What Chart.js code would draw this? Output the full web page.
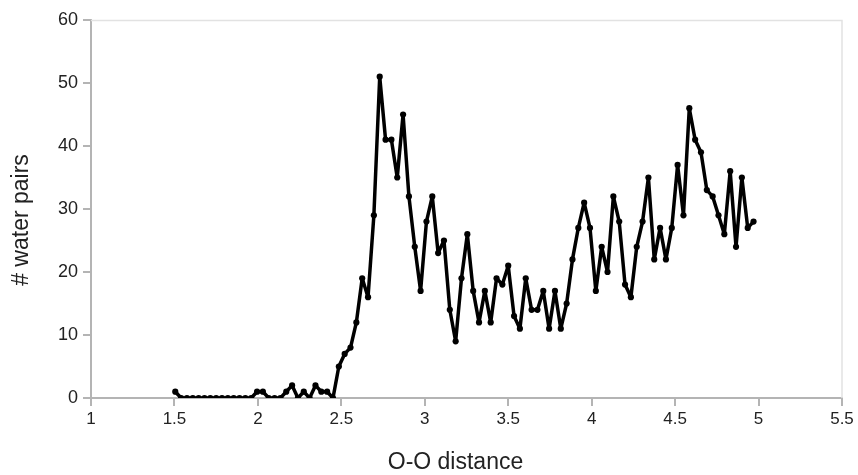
<!DOCTYPE html>
<html>
<head>
<meta charset="utf-8">
<script src="https://cdn.jsdelivr.net/npm/chart.js@4/dist/chart.umd.min.js"></script>
<style>
  html, body { margin: 0; padding: 0; background: #ffffff; }
  #wrap { width: 858px; height: 475px; }
</style>
</head>
<body>
<div id="wrap"><canvas id="c" width="858" height="475"></canvas></div>
<script>
// O-O distance (bin positions)
const distances = [
  1.505, 1.540, 1.575, 1.610, 1.645, 1.680, 1.715, 1.750, 1.785, 1.820,
  1.855, 1.890, 1.925, 1.960, 1.995, 2.030, 2.065, 2.100, 2.135, 2.170,
  2.205, 2.240, 2.275, 2.310, 2.345, 2.380, 2.415, 2.450, 2.485, 2.520,
  2.555, 2.590, 2.625, 2.660, 2.695, 2.730, 2.765, 2.800, 2.835, 2.870,
  2.905, 2.940, 2.975, 3.010, 3.045, 3.080, 3.115, 3.150, 3.185, 3.220,
  3.255, 3.290, 3.325, 3.360, 3.395, 3.430, 3.465, 3.500, 3.535, 3.570,
  3.605, 3.640, 3.675, 3.710, 3.745, 3.780, 3.815, 3.850, 3.885, 3.920,
  3.955, 3.990, 4.025, 4.060, 4.095, 4.130, 4.165, 4.200, 4.235, 4.270,
  4.305, 4.340, 4.375, 4.410, 4.445, 4.480, 4.515, 4.550, 4.585, 4.620,
  4.655, 4.690, 4.725, 4.760, 4.795, 4.830, 4.865, 4.900, 4.935, 4.970
];
// # water pairs
const waterPairs = [
  1, 0, 0, 0, 0, 0, 0, 0, 0, 0,
  0, 0, 0, 0, 1, 1, 0, 0, 0, 1,
  2, 0, 1, 0, 2, 1, 1, 0, 5, 7,
  8, 12, 19, 16, 29, 51, 41, 41, 35, 45,
  32, 24, 17, 28, 32, 23, 25, 14, 9, 19,
  26, 17, 12, 17, 12, 19, 18, 21, 13, 11,
  19, 14, 14, 17, 11, 17, 11, 15, 22, 27,
  31, 27, 17, 24, 20, 32, 28, 18, 16, 24,
  28, 35, 22, 27, 22, 27, 37, 29, 46, 41,
  39, 33, 32, 29, 26, 36, 24, 35, 27, 28
];
const xTicks = [1, 1.5, 2, 2.5, 3, 3.5, 4, 4.5, 5, 5.5];
const yTicks = [0, 10, 20, 30, 40, 50, 60];
const xTitle = 'O-O distance';
const yTitle = '# water pairs';

const points = distances.map((d, i) => ({ x: d, y: waterPairs[i] }));

const FONT = "'Liberation Sans', Arial, sans-serif";
const TEXT = '#222222';

const decor = {
  id: 'decor',
  beforeDatasetsDraw(chart) {
    const a = chart.chartArea, ctx = chart.ctx;
    ctx.save();
    ctx.strokeStyle = '#e2e2e2';
    ctx.lineWidth = 1.5;
    ctx.beginPath();
    ctx.moveTo(a.left, a.top + 0.5);
    ctx.lineTo(a.right, a.top + 0.5);
    ctx.lineTo(a.right, a.bottom);
    ctx.stroke();
    ctx.restore();
  },
  afterDraw(chart) {
    const a = chart.chartArea, ctx = chart.ctx;
    ctx.save();
    ctx.fillStyle = TEXT;
    ctx.textAlign = 'center';
    ctx.textBaseline = 'middle';
    ctx.font = "23px " + FONT;
    ctx.fillText(xTitle, (a.left + a.right) / 2 - 11, chart.height - 12);
    ctx.translate(22, (a.top + a.bottom) / 2 + 11);
    ctx.rotate(-Math.PI / 2);
    ctx.font = "23px " + FONT;
    ctx.fillText(yTitle, 0, 0);
    ctx.restore();
  }
};

new Chart(document.getElementById('c'), {
  type: 'line',
  data: {
    datasets: [{
      data: points,
      borderColor: '#000000',
      backgroundColor: '#000000',
      borderWidth: 3.5,
      borderJoinStyle: 'round',
      borderCapStyle: 'round',
      pointRadius: 3.1,
      pointBorderWidth: 0,
      pointBackgroundColor: '#000000',
      tension: 0,
      fill: false
    }]
  },
  options: {
    responsive: false,
    animation: false,
    layout: { padding: { left: 0, right: 16, top: 20, bottom: 0 } },
    plugins: { legend: { display: false }, tooltip: { enabled: false } },
    scales: {
      x: {
        type: 'linear',
        min: 1, max: 5.5,
        afterBuildTicks(scale) { scale.ticks = xTicks.map(v => ({ value: v })); },
        afterFit(scale) { scale.height = 77; },
        grid: { drawOnChartArea: false, drawTicks: true, tickLength: 8, color: '#b4b4b4', lineWidth: 2 },
        border: { display: true, color: '#b4b4b4', width: 2 },
        ticks: { color: TEXT, font: { family: FONT, size: 17 }, padding: 3, maxRotation: 0,
                 callback: v => String(v) },
        title: { display: false }
      },
      y: {
        min: 0, max: 60,
        afterBuildTicks(scale) { scale.ticks = yTicks.map(v => ({ value: v })); },
        afterFit(scale) { scale.width = 91; },
        grid: { drawOnChartArea: false, drawTicks: true, tickLength: 8, color: '#b4b4b4', lineWidth: 2 },
        border: { display: true, color: '#b4b4b4', width: 2 },
        ticks: { color: TEXT, font: { family: FONT, size: 18 }, padding: 5,
                 callback: v => String(v) },
        title: { display: false }
      }
    }
  },
  plugins: [decor]
});
</script>
</body>
</html>
